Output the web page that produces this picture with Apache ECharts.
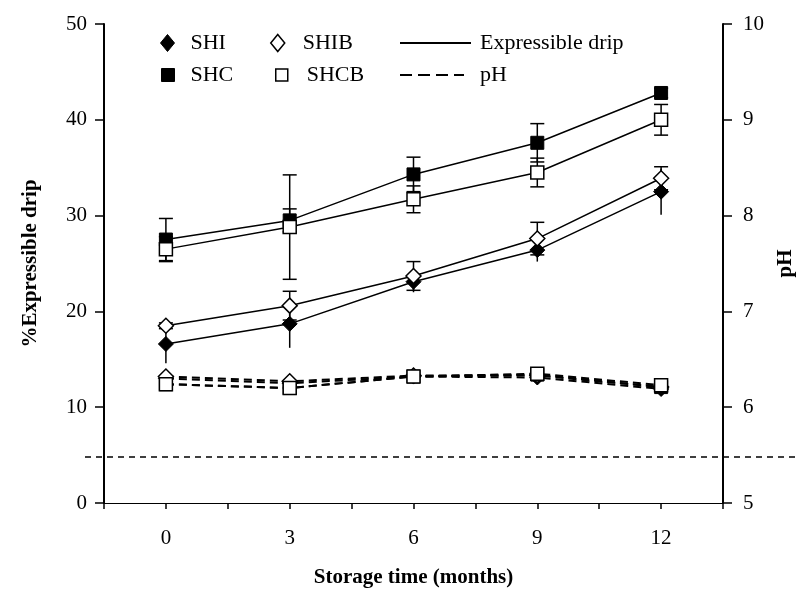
<!DOCTYPE html>
<html>
<head>
<meta charset="utf-8">
<script src="https://cdn.jsdelivr.net/npm/echarts@6/dist/echarts.min.js"></script>
<style>
html,body{margin:0;padding:0;background:#fff;}
#chart{width:810px;height:604px;}
</style>
</head>
<body>
<div id="chart"></div>
<script>
// ---- data ----
const months = [0, 3, 6, 9, 12];
const xTickLabels = [0, 3, 6, 9, 12];

// % expressible drip (means)
const dripSHI  = [16.6, 18.7, 23.1, 26.4, 32.5];
const dripSHIB = [18.5, 20.6, 23.7, 27.6, 33.9];
const dripSHC  = [27.5, 29.5, 34.3, 37.6, 42.8];
const dripSHCB = [26.5, 28.8, 31.7, 34.5, 40.0];

// error (± SD) of expressible drip
const errSHI  = [2.0, 2.5, 1.1, 1.2, 2.4];
const errSHIB = [0.3, 1.5, 1.5, 1.7, 1.2];
const errSHC  = [2.2, 1.2, 1.8, 2.0, 0.5];
const errSHCB = [1.3, 5.45, 1.4, 1.5, 1.6];

// pH values
const pHSHI  = [6.30, 6.25, 6.32, 6.31, 6.19];
const pHSHIB = [6.32, 6.27, 6.33, 6.33, 6.21];
const pHSHC  = [6.24, 6.20, 6.32, 6.34, 6.21];
const pHSHCB = [6.24, 6.20, 6.32, 6.35, 6.23];

// horizontal dashed reference line (on the drip axis)
const refLineValue = 4.8;

// ---- helpers ----
const FONT = 'Liberation Serif';
const pairs = (xs, ys) => xs.map((x, i) => [x, ys[i]]);
const errData = (xs, ys, es) => xs.map((x, i) => [x, ys[i] - es[i], ys[i] + es[i]]);

function errSeries(name, data, capW) {
  return {
    name: name + ' err',
    type: 'custom',
    xAxisIndex: 0, yAxisIndex: 0,
    z: 1,
    silent: true,
    encode: { x: 0, y: [1, 2] },
    data: data,
    renderItem: function (params, api) {
      const x = api.value(0);
      const lo = api.coord([x, api.value(1)]);
      const hi = api.coord([x, api.value(2)]);
      const st = { stroke: '#000', lineWidth: 1.5 };
      const ch = [{ type: 'line', shape: { x1: lo[0], y1: lo[1], x2: hi[0], y2: hi[1] }, style: st }];
      if (capW > 0) {
        ch.push({ type: 'line', shape: { x1: lo[0] - capW / 2, y1: lo[1], x2: lo[0] + capW / 2, y2: lo[1] }, style: st });
        ch.push({ type: 'line', shape: { x1: hi[0] - capW / 2, y1: hi[1], x2: hi[0] + capW / 2, y2: hi[1] }, style: st });
      }
      return { type: 'group', children: ch };
    }
  };
}

function markSeries(name, data, symbol, filled, yIdx, dashed) {
  return {
    name: name,
    type: 'line',
    xAxisIndex: 0,
    yAxisIndex: yIdx,
    data: data,
    z: 3,
    symbol: symbol,
    symbolSize: symbol === 'diamond' ? [15, 15] : [13, 13],
    showSymbol: true,
    animation: false,
    lineStyle: dashed ? { color: '#000', width: 2, type: [8, 5] } : { color: '#000', width: 1.5 },
    itemStyle: filled ? { color: '#000', borderColor: '#000', borderWidth: 1 } : { color: '#fff', borderColor: '#000', borderWidth: 1.5 },
    emphasis: { disabled: true }
  };
}

function oneLegend(name, left, top, icon, iw, ih, padL, itemStyle) {
  const l = {
    data: [name], left: left, top: top, padding: 0,
    itemWidth: iw, itemHeight: ih, selectedMode: false,
    textStyle: { fontFamily: FONT, fontSize: 22, color: '#000', lineHeight: 22, padding: [0, 0, 0, padL] }
  };
  if (icon) l.icon = icon;
  if (itemStyle) l.itemStyle = itemStyle;
  return l;
}

const chart = echarts.init(document.getElementById('chart'));
const option = {
  animation: false,
  backgroundColor: '#fff',
  grid: [
    { left: 104, right: 87, top: 24, bottom: 101 },
    { left: 85, right: 10, top: 24, bottom: 101 }
  ],
  xAxis: [{
    type: 'value', gridIndex: 0, min: -1.5, max: 13.5, interval: 1.5,
    name: 'Storage time (months)', nameLocation: 'middle', nameGap: 64,
    nameTextStyle: { fontFamily: FONT, fontSize: 21, fontWeight: 'bold', color: '#000' },
    axisLine: { onZero: false, lineStyle: { color: '#000', width: 1 } },
    axisTick: { inside: false, length: 6, lineStyle: { color: '#000', width: 1.5 } },
    axisLabel: {
      margin: 25, fontFamily: FONT, fontSize: 21, color: '#000',
      formatter: v => xTickLabels.includes(Math.round(v * 100) / 100) ? String(Math.round(v)) : ''
    },
    splitLine: { show: false }
  }, {
    type: 'value', gridIndex: 1, min: 0, max: 1, show: false
  }],
  yAxis: [{
    type: 'value', gridIndex: 0, min: 0, max: 50, interval: 10, position: 'left',
    name: '%Expressible drip', nameLocation: 'middle', nameGap: 63, nameRotate: 90,
    nameTextStyle: { fontFamily: FONT, fontSize: 21, fontWeight: 'bold', color: '#000' },
    axisLine: { show: true, onZero: false, lineStyle: { color: '#000', width: 2 } },
    axisTick: { show: true, inside: false, length: 9, lineStyle: { color: '#000', width: 1.5 } },
    axisLabel: { margin: 17, fontFamily: FONT, fontSize: 21, color: '#000' },
    splitLine: { show: false }
  }, {
    type: 'value', gridIndex: 0, min: 5, max: 10, interval: 1, position: 'right',
    name: 'pH', nameLocation: 'middle', nameGap: 50, nameRotate: 90,
    nameTextStyle: { fontFamily: FONT, fontSize: 21, fontWeight: 'bold', color: '#000' },
    axisLine: { show: true, onZero: false, lineStyle: { color: '#000', width: 2 } },
    axisTick: { show: true, inside: false, length: 9, lineStyle: { color: '#000', width: 1.5 } },
    axisLabel: { margin: 20, fontFamily: FONT, fontSize: 21, color: '#000' },
    splitLine: { show: false }
  }, {
    type: 'value', gridIndex: 1, min: 0, max: 50, show: false
  }],
  legend: [
    oneLegend('SHI', 160, 32, 'diamond', 14, 17, 11, { color: '#000', borderColor: '#000', borderWidth: 1 }),
    oneLegend('SHC', 161, 64, 'rect', 13, 13, 11, { color: '#000', borderColor: '#000', borderWidth: 1 }),
    oneLegend('SHIB', 270, 32, 'diamond', 14, 17, 13, { color: '#fff', borderColor: '#000', borderWidth: 1.5 }),
    oneLegend('SHCB', 275, 64, 'rect', 12, 12, 14, { color: '#fff', borderColor: '#000', borderWidth: 1.5 }),
    oneLegend('Expressible drip', 399, 32, null, 71, 14, 4, { opacity: 0 }),
    oneLegend('pH', 399, 64, null, 64, 14, 11, { opacity: 0 })
  ],
  series: [
    // reference dashed line spanning the figure
    {
      name: 'ref', type: 'line', xAxisIndex: 1, yAxisIndex: 2, silent: true,
      data: [[0, refLineValue], [1, refLineValue]], symbol: 'none',
      lineStyle: { color: '#000', width: 1.5, type: [6, 5] }, z: 0
    },
    // error bars
    errSeries('SHI', errData(months, dripSHI, errSHI), 0),
    errSeries('SHIB', errData(months, dripSHIB, errSHIB), 14),
    errSeries('SHC', errData(months, dripSHC, errSHC), 14),
    errSeries('SHCB', errData(months, dripSHCB, errSHCB), 14),
    // expressible drip lines
    markSeries('SHI', pairs(months, dripSHI), 'diamond', true, 0, false),
    markSeries('SHIB', pairs(months, dripSHIB), 'diamond', false, 0, false),
    markSeries('SHC', pairs(months, dripSHC), 'rect', true, 0, false),
    markSeries('SHCB', pairs(months, dripSHCB), 'rect', false, 0, false),
    // pH lines
    markSeries('SHI', pairs(months, pHSHI), 'diamond', true, 1, true),
    markSeries('SHIB', pairs(months, pHSHIB), 'diamond', false, 1, true),
    markSeries('SHC', pairs(months, pHSHC), 'rect', true, 1, true),
    markSeries('SHCB', pairs(months, pHSHCB), 'rect', false, 1, true),
    // legend-only line styles
    { name: 'Expressible drip', type: 'line', xAxisIndex: 0, yAxisIndex: 0, data: [], symbol: 'none',
      color: '#000', itemStyle: { color: '#000', opacity: 0 }, lineStyle: { color: '#000', width: 1.5 } },
    { name: 'pH', type: 'line', xAxisIndex: 0, yAxisIndex: 1, data: [], symbol: 'none',
      color: '#000', itemStyle: { color: '#000', opacity: 0 }, lineStyle: { color: '#000', width: 2.5, type: [12, 6] } }
  ]
};
chart.setOption(option);
</script>
</body>
</html>
